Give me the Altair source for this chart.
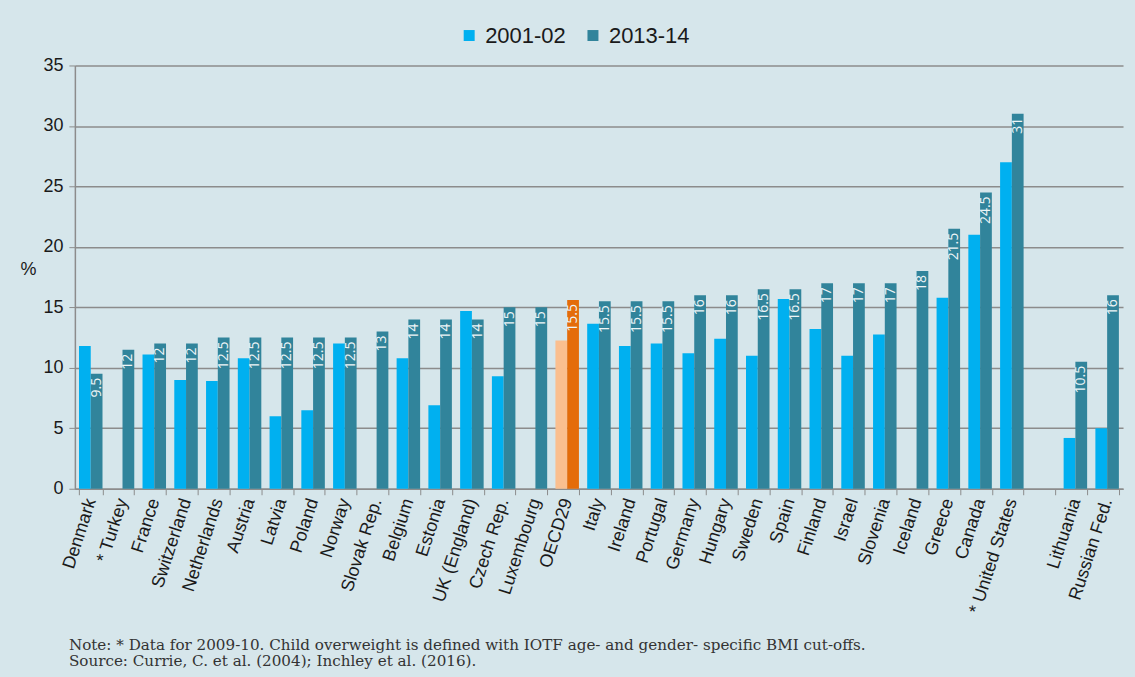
import altair as alt
import pandas as pd

countries = ["Denmark", "* Turkey", "France", "Switzerland", "Netherlands", "Austria",
             "Latvia", "Poland", "Norway", "Slovak Rep.", "Belgium", "Estonia",
             "UK (England)", "Czech Rep.", "Luxembourg", "OECD29", "Italy", "Ireland",
             "Portugal", "Germany", "Hungary", "Sweden", "Spain", "Finland", "Israel",
             "Slovenia", "Iceland", "Greece", "Canada", "* United States", " ",
             "Lithuania", "Russian Fed."]
v2001 = [11.8, None, 11.1, 9.0, 8.9, 10.8, 6.0, 6.5, 12.0, None, 10.8, 6.9, 14.7, 9.3,
         None, 12.25, 13.65, 11.8, 12.0, 11.2, 12.4, 11.0, 15.7, 13.2, 11.0, 12.75,
         None, 15.8, 21.0, 27.0, None, 4.2, 5.0]
v2013 = [9.5, 11.5, 12, 12, 12.5, 12.5, 12.5, 12.5, 12.5, 13, 14, 14, 14, 15, 15,
         15.6, 15.5, 15.5, 15.5, 16, 16, 16.5, 16.5, 17, 17, 17, 18, 21.5, 24.5, 31,
         None, 10.5, 16]
labels2013 = ["9.5", "12", "12", "12", "12.5", "12.5", "12.5", "12.5", "12.5", "13",
              "14", "14", "14", "15", "15", "15.5", "15.5", "15.5", "15.5", "16", "16",
              "16.5", "16.5", "17", "17", "17", "18", "21.5", "24.5", "31", "", "10.5", "16"]
series = ["2001-02", "2013-14"]
highlight = "OECD29"

rows = []
for i, c in enumerate(countries):
    for s, vals in zip(series, [v2001, v2013]):
        v = vals[i]
        if v is None:
            continue
        key = ("OECD " + s) if c == highlight else s
        lab = labels2013[i] if s == "2013-14" else ""
        rows.append({"country": c, "series": s, "value": v, "key": key, "label": lab})
df = pd.DataFrame(rows)

color_domain = ["2001-02", "2013-14", "OECD 2001-02", "OECD 2013-14"]
color_range = ["#00b0f0", "#31849b", "#fabf8f", "#e46c0a"]

x_enc = alt.X("country:N", scale=alt.Scale(domain=countries, paddingInner=0.26, paddingOuter=0.13),
              axis=alt.Axis(title=None, labelAngle=288, labelFontSize=18, labelFont="Liberation Sans",
                            labelColor="#1a1a1a", tickBand="extent", tickSize=6, tickColor="#8c8c8c",
                            domainColor="#8c8c8c", domainWidth=1.5, labelPadding=4, grid=False))
xo_enc = alt.XOffset("series:N", scale=alt.Scale(domain=series, paddingInner=0, paddingOuter=0))

bars = alt.Chart(df).mark_bar().encode(
    x=x_enc,
    xOffset=xo_enc,
    y=alt.Y("value:Q", scale=alt.Scale(domain=[0, 35]),
            axis=alt.Axis(values=[0, 5, 10, 15, 20, 25, 30, 35], title="%", titleAngle=0,
                          titleX=-47, titleY=213, titleAlign="center", titleFontSize=18,
                          titleFontWeight="normal", titleFont="Liberation Sans", titleColor="#1a1a1a",
                          labelFontSize=18, labelFont="Liberation Sans", labelColor="#1a1a1a",
                          labelPadding=6, tickSize=6, tickColor="#8c8c8c", domainColor="#8c8c8c",
                          domainWidth=1.5, gridColor="#8c8c8c", gridWidth=1.5)),
    color=alt.Color("key:N", scale=alt.Scale(domain=color_domain, range=color_range),
                    legend=alt.Legend(title=None, values=series, orient="none", direction="horizontal",
                                      legendX=384, legendY=-41, symbolType="square", symbolSize=121,
                                      symbolStrokeWidth=0, labelFontSize=22, labelFont="Liberation Sans",
                                      labelColor="#1a1a1a", columnPadding=16, labelOffset=5)),
)

texts = alt.Chart(df).transform_filter(alt.datum.label != "").mark_text(
    angle=270, align="right", baseline="middle", dx=-4, fontSize=14, font="Open Sans",
    color="#eef5f7"
).encode(
    x=alt.X("country:N", scale=alt.Scale(domain=countries)),
    xOffset=alt.XOffset("series:N", scale=alt.Scale(domain=series)),
    y=alt.Y("value:Q"),
    text="label:N",
)

chart = alt.layer(bars, texts).properties(
    width=1050, height=424,
    padding={"left": 19, "top": 24, "right": 12, "bottom": 10},
    title=alt.TitleParams(
        text=["Note: * Data for 2009-10. Child overweight is defined with IOTF age- and gender- specific BMI cut-offs.",
              "Source: Currie, C. et al. (2004); Inchley et al. (2016)."],
        orient="bottom", anchor="start", frame="group", font="DejaVu Serif", fontSize=15.2,
        fontWeight="normal", color="#333333", offset=23, dx=-6, lineHeight=16),
).configure(background="#d6e6eb").configure_view(stroke=None)

chart.save("out.html", embed_options={"renderer": "svg", "actions": False})
